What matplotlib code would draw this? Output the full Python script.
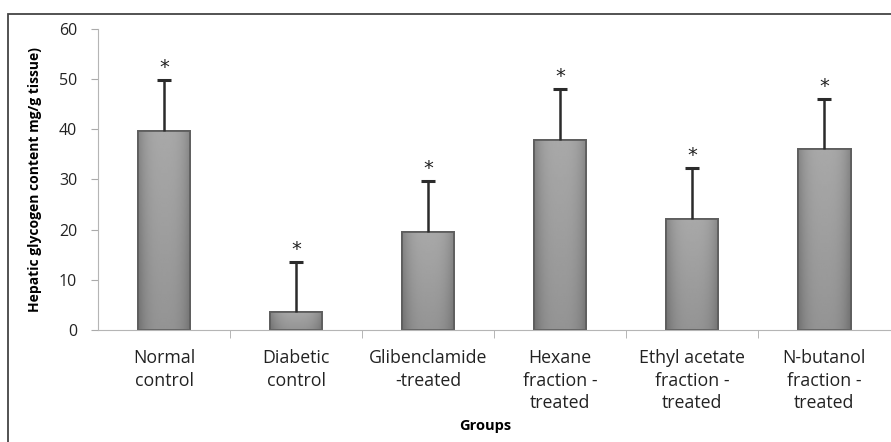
import matplotlib

matplotlib.use("Agg")
import matplotlib.pyplot as plt
import matplotlib.patches as patches
import numpy as np

groups = ["Normal\ncontrol", "Diabetic\ncontrol", "Glibenclamide\n-treated",
          "Hexane\nfraction -\ntreated", "Ethyl acetate\nfraction -\ntreated",
          "N-butanol\nfraction -\ntreated"]
means = [39.6, 3.6, 19.5, 37.8, 22.1, 36.1]
errors = [10.2, 10.0, 10.2, 10.2, 10.2, 9.9]
marks = ["*", "*", "*", "*", "*", "*"]

plt.rcParams["font.family"] = ["Open Sans", "DejaVu Sans"]

fig = plt.figure(figsize=(8.91, 4.42), dpi=100)
ax = fig.add_axes([0.110, 0.2534, 0.889, 0.681])

x = np.arange(len(groups))
tops = np.array(means) + np.array(errors)
bars = ax.bar(x, means, width=0.4, color="#a0a0a0", edgecolor="#5e5e5e", linewidth=1.3, zorder=2)

# bevelled grey look: lighter in the middle, darker at the sides and bottom
h = np.abs(np.linspace(-1, 1, 64))
v = np.linspace(0, 1, 64)[:, None]
shade = 0.66 - 0.14 * h[None, :] ** 3 - 0.08 * (1 - v)
for b in bars:
    bx, by, bw, bh = b.get_x(), b.get_y(), b.get_width(), b.get_height()
    im = ax.imshow(shade, cmap="gray", vmin=0, vmax=1, aspect="auto", origin="lower",
                   extent=(bx, bx + bw, by, by + bh), zorder=2.1, interpolation="bilinear")
    im.set_clip_path(b)
    ax.add_patch(patches.Rectangle((bx, by), bw, bh, fill=False, edgecolor="#5e5e5e",
                                   linewidth=1.3, zorder=2.2))

# upper error bars only, no cap at the bar top
ax.vlines(x, means, tops, color="#2b2b2b", linewidth=1.8, zorder=3)
ax.plot(x, tops, linestyle="none", marker="_", markersize=10, markeredgewidth=2.2,
        color="#2b2b2b", zorder=3)
for xi, t, s in zip(x, tops, marks):
    ax.annotate(s, (xi, t), xytext=(0, 2), textcoords="offset points",
                ha="center", va="bottom", fontsize=14, color="#222222",
                family="DejaVu Sans")

ax.set_xlim(-0.5, len(groups) - 0.5)
ax.set_ylim(0, 60)
ax.set_yticks(range(0, 61, 10))
ax.set_xticks(x)
ax.set_xticklabels(groups, fontsize=12.8, color="#222222", linespacing=1.3)
ax.set_xticks(np.arange(0.5, len(groups) - 0.5, 1), minor=True)
ax.tick_params(axis="x", which="major", length=0, pad=14)
ax.tick_params(axis="x", which="minor", length=6, color="#aaaaaa", direction="out")
ax.tick_params(axis="y", length=5, color="#aaaaaa", labelsize=11.5, labelcolor="#222222", pad=10)

for side in ["top", "right"]:
    ax.spines[side].set_visible(False)
ax.spines["left"].set_color("#b5b5b5")
ax.spines["bottom"].set_color("#b5b5b5")

ax.set_ylabel("Hepatic glycogen content mg/g tissue)", fontsize=10, fontweight="bold", labelpad=12)
fig.text(0.545, 0.036, "Groups", ha="center", va="center", fontsize=10.5, fontweight="bold")

frame = patches.Rectangle((0.009, -0.01), 1.0, 0.978, transform=fig.transFigure,
                          fill=False, edgecolor="#444444", linewidth=1.3)
fig.patches.append(frame)

fig.savefig("out.png", dpi=100)
